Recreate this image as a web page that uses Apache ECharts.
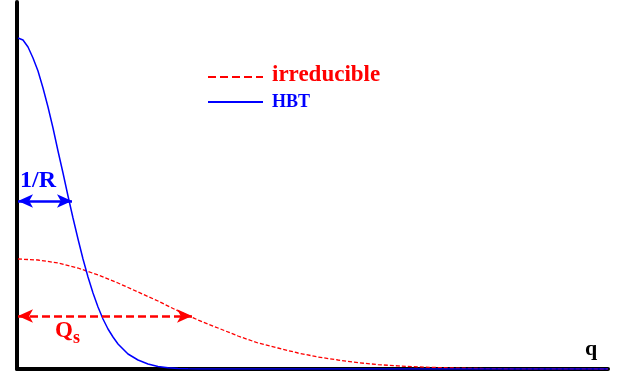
<!DOCTYPE html>
<html><head><meta charset="utf-8">
<script src="https://cdn.jsdelivr.net/npm/echarts@6/dist/echarts.min.js"></script>
<style>html,body{margin:0;padding:0;background:#fff}#c{width:620px;height:376px}</style>
</head><body><div id="c"></div>
<script>
// HBT curve (x position, height)
var qHBT = [1,6,11,16,21,26,31,36,41,46,51,56,61,66,71,76,81,86,91,96,101,111,121,131,141,151,161,171,181,591];
var vHBT = [331,329,322,311,298,281,262,241,218,196,173,151,130,110,92,76,62,50,40,32,25,15,9,5,2.6,1.3,0.6,0.2,0,0];
// irreducible curve
var qIrr = [1,21,41,61,81,101,121,141,161,181,201,221,241,261,281,301,321,341,361,381,401,421,441,461,481,501,591];
var vIrr = [110,109,106,101,94,86,77,68,58,49,41,33,26,21,16,12,9,6.3,4.4,3.1,2.1,1.4,0.9,0.5,0.3,0.2,0];
var names = ['irreducible','HBT'];
// arrows: [x0, x1, y]
var arrowR = [1, 55, 168];
var arrowQs = [1, 175, 53];

function pairs(xs, ys){ return xs.map(function(x,i){return [x, ys[i]];}); }

var font = '"Liberation Serif", "Times New Roman", serif';
var chart = echarts.init(document.getElementById('c'));
chart.setOption({
  animation:false,
  grid:{left:17,right:12,top:2,bottom:7},
  xAxis:{type:'value',min:0,max:591,axisLine:{show:true,lineStyle:{color:'#000',width:4}},
    axisTick:{show:false},axisLabel:{show:false},splitLine:{show:false}},
  yAxis:{type:'value',min:0,max:367,axisLine:{show:true,lineStyle:{color:'#000',width:4}},
    axisTick:{show:false},axisLabel:{show:false},splitLine:{show:false}},
  series:[
    {name:names[0],type:'line',data:pairs(qIrr,vIrr),smooth:false,symbol:'none',
      lineStyle:{color:'#ff0000',width:1.3,type:[4,2]},z:3,
      markLine:{silent:true,symbol:['arrow','arrow'],symbolSize:[10,15],label:{show:false},
        lineStyle:{color:'#ff0000',width:2.5,type:[8,4]},
        data:[[{coord:[arrowQs[0],arrowQs[2]]},{coord:[arrowQs[1],arrowQs[2]]}]]}},
    {name:names[1],type:'line',data:pairs(qHBT,vHBT),smooth:false,symbol:'none',
      lineStyle:{color:'#0000ff',width:1.5},z:3,
      markLine:{silent:true,symbol:['arrow','arrow'],symbolSize:[10,15],label:{show:false},
        lineStyle:{color:'#0000ff',width:2.5,type:'solid'},
        data:[[{coord:[arrowR[0],arrowR[2]]},{coord:[arrowR[1],arrowR[2]]}]]}}
  ],
  graphic:[
    {type:'line',shape:{x1:208,y1:77,x2:263,y2:77},style:{stroke:'#ff0000',lineWidth:2,lineDash:[8,4]}},
    {type:'line',shape:{x1:208,y1:102,x2:263,y2:102},style:{stroke:'#0000ff',lineWidth:2}},
    {type:'text',style:{text:names[0],x:272,y:75,fill:'#ff0000',font:'bold 23px '+font,verticalAlign:'middle'}},
    {type:'text',style:{text:names[1],x:272,y:102,fill:'#0000ff',font:'bold 18px '+font,verticalAlign:'middle'}},
    {type:'text',style:{text:'1/R',x:20,y:181,fill:'#0000ff',font:'bold 24px '+font,verticalAlign:'middle'}},
    {type:'text',style:{text:'Q',x:55,y:331,fill:'#ff0000',font:'bold 23px '+font,verticalAlign:'middle'}},
    {type:'text',style:{text:'s',x:73,y:338,fill:'#ff0000',font:'bold 18px '+font,verticalAlign:'middle'}},
    {type:'text',style:{text:'q',x:585,y:349,fill:'#000',font:'bold 22px '+font,verticalAlign:'middle'}}
  ]
});
</script></body></html>
